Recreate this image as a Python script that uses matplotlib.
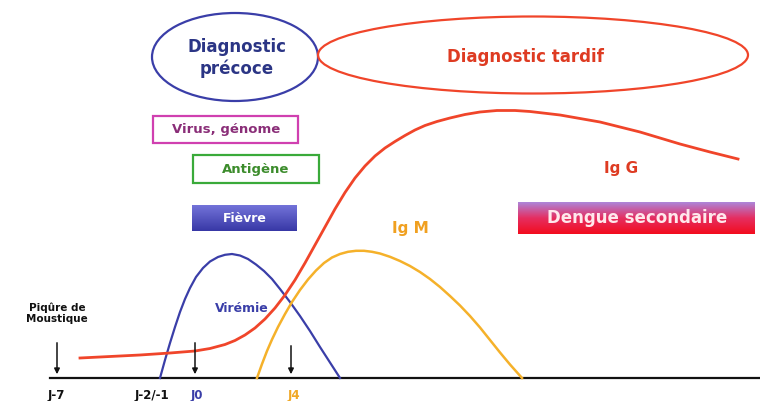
import numpy as np
import matplotlib.pyplot as plt
from matplotlib.patches import Ellipse, Rectangle

plt.rcParams['font.family'] = ['DejaVu Sans']
plt.rcParams['font.weight'] = 'bold'

# Unités : repère de l'image (x vers la droite, y vers le bas)
# Courbe IgG (rouge)
igg_x = [80, 110, 140, 170, 195, 210, 225, 235, 245, 255, 265, 275, 285, 295, 305, 315, 325,
         335, 345, 355, 365, 375, 385, 395, 405, 415, 425, 437, 450, 465, 480, 497, 515, 530,
         560, 600, 640, 680, 710, 738]
igg_y = [358, 356.5, 355, 353, 351, 348.5, 344.5, 340.5, 335, 328, 319, 308, 295, 280, 263, 245, 227,
         209, 192.5, 178, 166, 156, 148, 141.5, 135.5, 130, 125.5, 121.5, 118, 114.5, 112, 110.5, 110.5, 111.5,
         115, 122, 132, 144, 152, 159]

# Virémie (bleu)
vir_x = [160, 165, 170, 175, 180, 185, 190, 196, 203, 210, 218, 225, 232, 240, 248, 256, 264,
         272, 280, 290, 300, 310, 320, 330, 340]
vir_y = [378, 360, 343, 327, 312, 299, 288, 277, 268, 261.5, 257, 254.8, 254, 255.5, 259, 264.5, 271,
         279, 289, 302, 316, 331, 347, 362.5, 378]

# IgM (orange)
igm_x = [257, 262, 267, 272, 278, 285, 292, 300, 308, 316, 324, 332, 340, 348, 356, 364, 372,
         380, 390, 400, 410, 420, 430, 440, 450, 460, 470, 480, 490, 500, 510, 522]
igm_y = [378, 364, 351, 339.5, 327, 314, 302, 290, 279.5, 270.5, 263, 257.5, 254, 251.8, 250.8, 250.8, 251.8,
         253.5, 256.8, 261, 266, 272, 279, 287, 296, 305.5, 316, 327.5, 340, 352.5, 364.5, 378]

# Flèches (piqûre, J0, J4)
arrow_x = [57, 195, 291]
arrow_top = [340, 340, 343]

jour_labels = ['J-7', 'J-2/-1', 'J0', 'J4']
jour_x = [56, 152, 197, 294]
jour_col = ['#111111', '#111111', '#3a3ea8', '#f0a826']

RED = '#f0452a'
BLUE = '#3a3ea8'
ORANGE = '#f5b12a'

fig = plt.figure(figsize=(7.6, 4.01), dpi=100)
ax = fig.add_axes([0, 0, 1, 1])
ax.axis('off')

# axe horizontal
ax.plot([50, 760], [378, 378], color='#111111', lw=1.6)

ax.plot(vir_x, vir_y, color=BLUE, lw=1.6, solid_joinstyle='round')
ax.plot(igm_x, igm_y, color=ORANGE, lw=1.8, solid_joinstyle='round')
ax.plot(igg_x, igg_y, color=RED, lw=2.0, solid_joinstyle='round')

for x, yt in zip(arrow_x, arrow_top):
    ax.annotate('', xy=(x, 377), xytext=(x, yt),
                arrowprops=dict(arrowstyle='-|>', color='#111111', lw=1.1, mutation_scale=8))

for lab, x, c in zip(jour_labels, jour_x, jour_col):
    ax.text(x, 395, lab, ha='center', va='center', fontsize=8.5, color=c)

ax.text(57, 313, 'Piqûre de\nMoustique', ha='center', va='center', fontsize=7.5,
        color='#111111', linespacing=1.1)
ax.text(242, 308, 'Virémie', ha='center', va='center', fontsize=9, color=BLUE)

# ellipses de diagnostic
ax.add_patch(Ellipse((235, 57), 166, 88, fill=False, ec=BLUE, lw=1.6))
ax.text(237, 58, 'Diagnostic\nprécoce', ha='center', va='center', fontsize=12,
        color='#2b3585', linespacing=1.2)
ax.add_patch(Ellipse((533, 55), 430, 77, fill=False, ec=RED, lw=1.6))
ax.text(525, 57, 'Diagnostic tardif', ha='center', va='center', fontsize=12, color='#de3b22')

# encadrés
ax.add_patch(Rectangle((153, 116), 145, 27, fill=False, ec='#d040b0', lw=1.6))
ax.text(226, 130, 'Virus, génome', ha='center', va='center', fontsize=9.5, color='#8a2e78')
ax.add_patch(Rectangle((193, 155), 126, 28, fill=False, ec='#3aaa3a', lw=1.6))
ax.text(256, 169, 'Antigène', ha='center', va='center', fontsize=9.5, color='#3c8c2c')

grad = np.linspace(0, 1, 50)
fiev = np.zeros((50, 1, 3))
for i, t in enumerate(grad):
    fiev[i, 0, :] = np.array([0.45, 0.45, 0.85]) * (1 - t) + np.array([0.22, 0.22, 0.65]) * t
ax.imshow(fiev, extent=(192, 297, 231, 205), aspect='auto', zorder=2)
ax.text(245, 218, 'Fièvre', ha='center', va='center', fontsize=9, color='white', zorder=3)

top = np.array([0.68, 0.52, 0.85])
mid = np.array([0.90, 0.18, 0.38])
bot = np.array([0.95, 0.05, 0.12])
dsec = np.zeros((50, 1, 3))
for i, t in enumerate(grad):
    if t < 0.5:
        dsec[i, 0, :] = top * (1 - 2 * t) + mid * 2 * t
    else:
        dsec[i, 0, :] = mid * (2 - 2 * t) + bot * (2 * t - 1)
ax.imshow(dsec, extent=(518, 755, 234, 202), aspect='auto', zorder=2)
ax.text(637, 218, 'Dengue secondaire', ha='center', va='center', fontsize=12,
        color='#ffe8ec', zorder=3)

ax.text(621, 168, 'Ig G', ha='center', va='center', fontsize=11, color='#de3b22')
ax.text(410, 228, 'Ig M', ha='center', va='center', fontsize=11, color='#f0a020')

ax.set_xlim(0, 760)
ax.set_ylim(401, 0)
fig.savefig('out.png', dpi=100)
